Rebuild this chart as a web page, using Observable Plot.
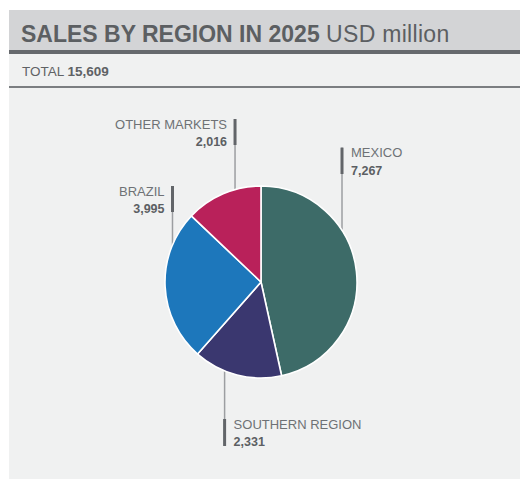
<!DOCTYPE html>
<html>
<head>
<meta charset="utf-8">
<script src="https://cdn.jsdelivr.net/npm/d3@7"></script>
<script src="https://cdn.jsdelivr.net/npm/@observablehq/plot@0.6"></script>
<style>
  html, body { margin: 0; padding: 0; background: #ffffff; }
  body { font-family: "Liberation Sans", Arial, Helvetica, sans-serif; width: 520px; height: 479px; position: relative; overflow: hidden; }
  #wrap { position: absolute; left: 9px; top: 10px; width: 511px; }
  #head { height: 40px; background: #d3d4d6; border-bottom: 4px solid #66696d; overflow: hidden; }
  #title { padding-left: 12px; font-size: 23px; line-height: 49px; color: #5c5f62; white-space: nowrap; }
  #title b { font-weight: bold; }
  #title span { letter-spacing: 0.3px; }
  #total { height: 32px; background: #f0f1f1; border-bottom: 2px solid #7b7e81; overflow: hidden; }
  #totaltext { padding-left: 13px; font-size: 13.5px; line-height: 36px; color: #5f6265; white-space: nowrap; }
  #chart { height: 391px; background: #f0f1f1; }
  #chart svg { display: block; }
</style>
</head>
<body>
<div id="wrap">
  <div id="head"><div id="title"><b>SALES BY REGION IN 2025</b> <span>USD million</span></div></div>
  <div id="total"><div id="totaltext"></div></div>
  <div id="chart"></div>
</div>
<script>
// ---- data ----
const regions = ["MEXICO", "SOUTHERN REGION", "BRAZIL", "OTHER MARKETS"];
const sales = [7267, 2331, 3995, 2016];
const colors = ["#3d6b68", "#3a376f", "#1d77bb", "#b9215a"];

// ---- label layout (angle where the leader meets the pie, bar extent in radius units) ----
const leaderAngle = [57, 202.6, 292, 344];
const barTop = [1.40, -1.427, 1.0, 1.698];
const barBottom = [1.125, -1.708, 0.729, 1.427];
const labelSide = ["right", "right", "left", "left"];

const fmt = d3.format(",");
const total = d3.sum(sales);
document.getElementById("totaltext").innerHTML = "TOTAL <b>" + fmt(total) + "</b>";

const rows = regions.map((r, i) => {
  const a = leaderAngle[i] * Math.PI / 180;
  const up = barTop[i] > 0;
  return {
    region: r,
    value: sales[i],
    color: colors[i],
    lx: Math.sin(a),
    ly: Math.cos(a),
    top: barTop[i],
    bottom: barBottom[i],
    far: up ? barTop[i] : barBottom[i],
    side: labelSide[i]
  };
});

function pieMark(index, scales) {
  const cx = scales.x(0), cy = scales.y(0);
  const r = scales.x(1) - scales.x(0);
  const arcs = d3.pie().sort(null).value(d => d.value)(rows);
  const arc = d3.arc().innerRadius(0).outerRadius(r);
  const g = d3.create("svg:g").attr("transform", `translate(${cx},${cy})`);
  g.selectAll("path").data(arcs).join("path")
    .attr("d", arc)
    .attr("fill", d => d.data.color)
    .attr("stroke", "#ffffff")
    .attr("stroke-width", 1.6)
    .attr("stroke-linejoin", "round");
  return g.node();
}

const nameStyle = { fontSize: 13, fill: "#6e7175", lineAnchor: "top" };
const valueStyle = { fontSize: 12.5, fontWeight: "bold", fill: "#5c5f63", lineAnchor: "bottom" };

const chart = Plot.plot({
  width: 511,
  height: 391,
  margin: 0,
  x: { domain: [-2.625, 2.698], axis: null },
  y: { domain: [-2.052, 2.021], axis: null },
  style: { background: "#f0f1f1", fontFamily: "'Liberation Sans', Arial, Helvetica, sans-serif", overflow: "visible" },
  marks: [
    Plot.ruleX(rows, { x: "lx", y1: "ly", y2: "far", stroke: "#9c9ea1", strokeWidth: 1.5 }),
    pieMark,
    Plot.ruleX(rows, { x: "lx", y1: "top", y2: "bottom", stroke: "#626569", strokeWidth: 3 }),
    Plot.text(rows, { filter: d => d.side === "right", x: "lx", y: "top", text: "region", textAnchor: "start", dx: 9, ...nameStyle }),
    Plot.text(rows, { filter: d => d.side === "left", x: "lx", y: "top", text: "region", textAnchor: "end", dx: -8, ...nameStyle }),
    Plot.text(rows, { filter: d => d.side === "right", x: "lx", y: "bottom", text: d => fmt(d.value), textAnchor: "start", dx: 9, ...valueStyle }),
    Plot.text(rows, { filter: d => d.side === "left", x: "lx", y: "bottom", text: d => fmt(d.value), textAnchor: "end", dx: -8, ...valueStyle })
  ]
});
document.getElementById("chart").appendChild(chart);
</script>
</body>
</html>
